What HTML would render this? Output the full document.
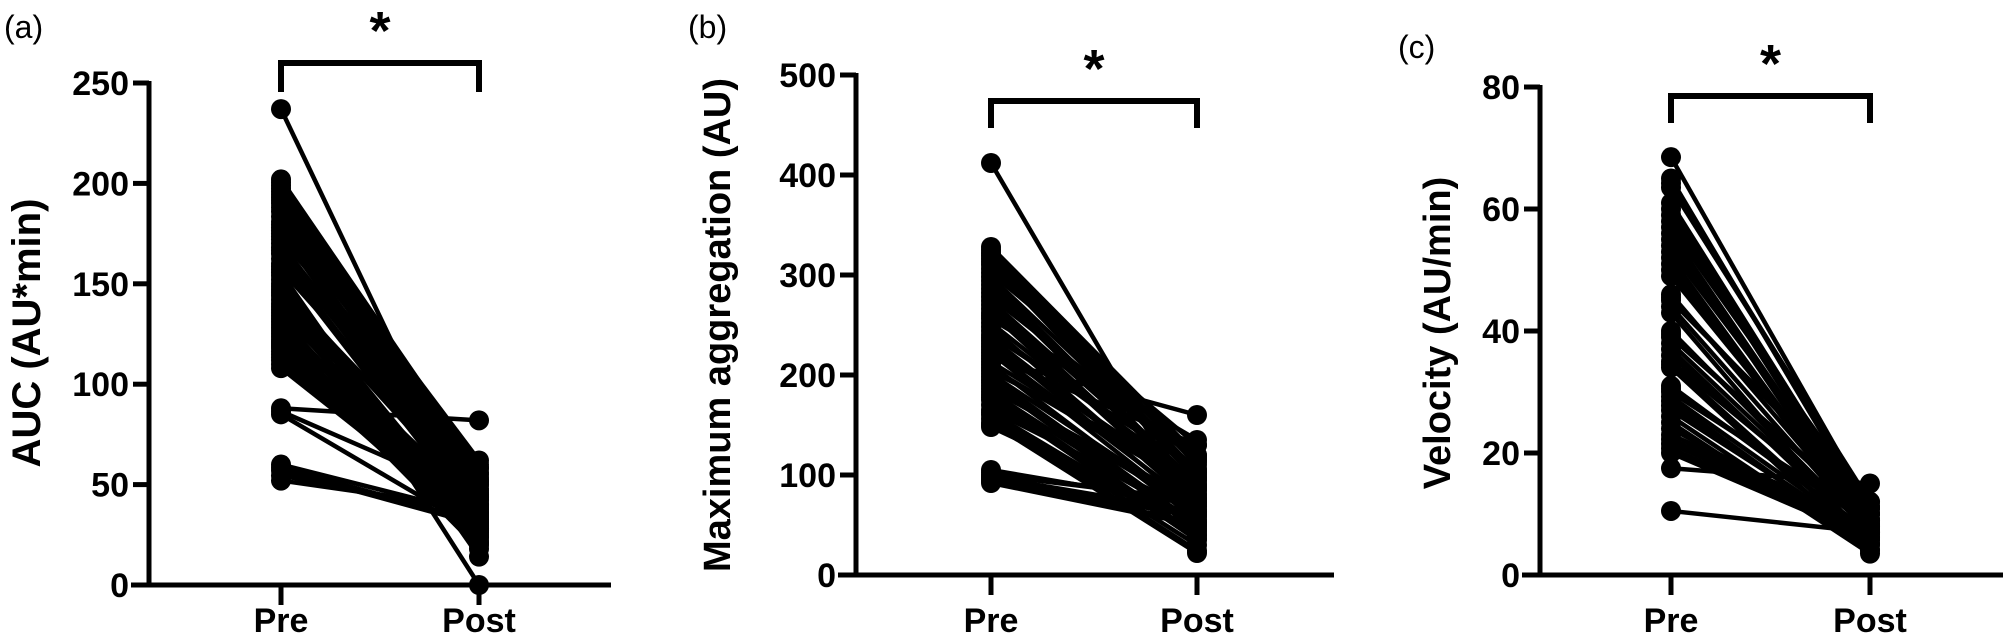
<!DOCTYPE html>
<html><head><meta charset="utf-8">
<style>
html,body{margin:0;padding:0;background:#fff;}
svg{display:block;font-family:"Liberation Sans",Arial,sans-serif;}
</style></head>
<body>
<svg id="s" width="2007" height="640" viewBox="0 0 2007 640" xmlns="http://www.w3.org/2000/svg">
<g id="g"></g>
</svg>
<script>
var NS="http://www.w3.org/2000/svg",g=document.getElementById('g');
function el(t,a,txt){var e=document.createElementNS(NS,t);for(var k in a)e.setAttribute(k,a[k]);if(txt!==undefined)e.textContent=txt;g.appendChild(e);return e;}
function panel(o){
 var ax=o.ax,y0=o.y0,sc=o.sc,pre=o.pre,post=o.post,end=o.end;
 el('line',{x1:ax,y1:y0,x2:ax,y2:o.ytop-2,stroke:'#000','stroke-width':5});
 el('line',{x1:ax-18,y1:y0,x2:end,y2:y0,stroke:'#000','stroke-width':5});
 o.ticks.forEach(function(t){var y=y0-t*sc;
  el('line',{x1:ax-16,y1:y,x2:ax,y2:y,stroke:'#000','stroke-width':5});
  el('text',{x:ax-20,y:y+12,'text-anchor':'end','font-size':34,'font-weight':'bold'},String(t));});
 [pre,post].forEach(function(x){el('line',{x1:x,y1:y0,x2:x,y2:y0+20,stroke:'#000','stroke-width':5});});
 el('text',{x:pre,y:632,'text-anchor':'middle','font-size':34,'font-weight':'bold'},'Pre');
 el('text',{x:post,y:632,'text-anchor':'middle','font-size':34,'font-weight':'bold'},'Post');
 el('path',{d:'M'+pre+' '+o.bt2+'V'+o.bt+'H'+post+'V'+o.bt2,fill:'none',stroke:'#000','stroke-width':6});
 el('text',{x:(pre+post)/2,y:o.bt-14,'text-anchor':'middle','font-size':54,'font-weight':'bold'},'*');
 el('text',{x:o.lx,y:o.ly,'font-size':32},o.lab);
 el('text',{x:0,y:0,'text-anchor':'middle','font-size':o.yfs,'font-weight':'bold',transform:'translate('+o.yx+','+o.yy+') rotate(-90)'},o.ylab);
 var d=o.data.slice();
 for(var i=0;i+1<o.data.length;i++){var a=o.data[i],b=o.data[i+1];
  if(Math.abs(a[0]-b[0])*sc<14) d.push([(a[0]+b[0])/2,(a[1]*0.3+b[1]*0.7)]);}
 d.forEach(function(p){
  el('line',{x1:pre,y1:y0-p[0]*sc,x2:post,y2:y0-p[1]*sc,stroke:'#000','stroke-width':4.5});});
 d.forEach(function(p){
  el('circle',{cx:pre,cy:y0-p[0]*sc,r:10});el('circle',{cx:post,cy:y0-p[1]*sc,r:10});});
}
panel({ax:149,y0:585,sc:2.008,ytop:83,pre:281,post:479,end:611,ticks:[0,50,100,150,200,250],bt:63,bt2:92,
 lx:4,ly:38,lab:'(a)',ylab:'AUC (AU*min)',yx:40,yy:333,yfs:40,
 data:[[237,30],[202,58],[199,55],[196,50],[193,62],[190,48],[186,45],[181,52],[178,40],[175,38],[172,60],[168,35],[165,42],[160,33],[157,47],[154,0],[150,30],[147,44],[144,28],[140,36],[137,25],[134,40],[131,22],[128,32],[125,20],[122,38],[120,26],[118,18],[115,34],[112,24],[108,30],[88,82],[85,27],[60,35],[57,30],[52,38]]});
panel({ax:856,y0:575,sc:1.0,ytop:75,pre:991,post:1197,end:1334,ticks:[0,100,200,300,400,500],bt:101,bt2:128,
 lx:688,ly:38,lab:'(b)',ylab:'Maximum aggregation (AU)',yx:730,yy:325,yfs:38,
 data:[[412,60],[328,120],[322,110],[316,100],[310,95],[302,130],[294,90],[286,85],[278,115],[270,80],[262,75],[256,135],[248,70],[240,105],[234,65],[228,88],[222,60],[216,160],[210,55],[204,98],[198,50],[192,45],[186,72],[180,40],[175,35],[165,62],[160,30],[152,22],[148,52],[105,70],[100,75],[96,58],[92,50]]});
panel({ax:1540,y0:575,sc:6.1,ytop:87,pre:1671,post:1870,end:2003,ticks:[0,20,40,60,80],bt:96,bt2:123,
 lx:1398,ly:58,lab:'(c)',ylab:'Velocity (AU/min)',yx:1450,yy:333,yfs:38,
 data:[[68.5,11],[65,10],[63.5,12],[61,9],[59,8],[57,11],[55,7],[53,10],[51,6],[49,9],[46,8],[45,12],[43,5],[40,7],[39,10],[37,6],[35,8],[34,4],[31,7],[30,9],[28.5,5],[27,6],[25,3.5],[23,8],[21.5,7],[20,6],[17.5,15],[10.5,7]]});
</script>
</body></html>
